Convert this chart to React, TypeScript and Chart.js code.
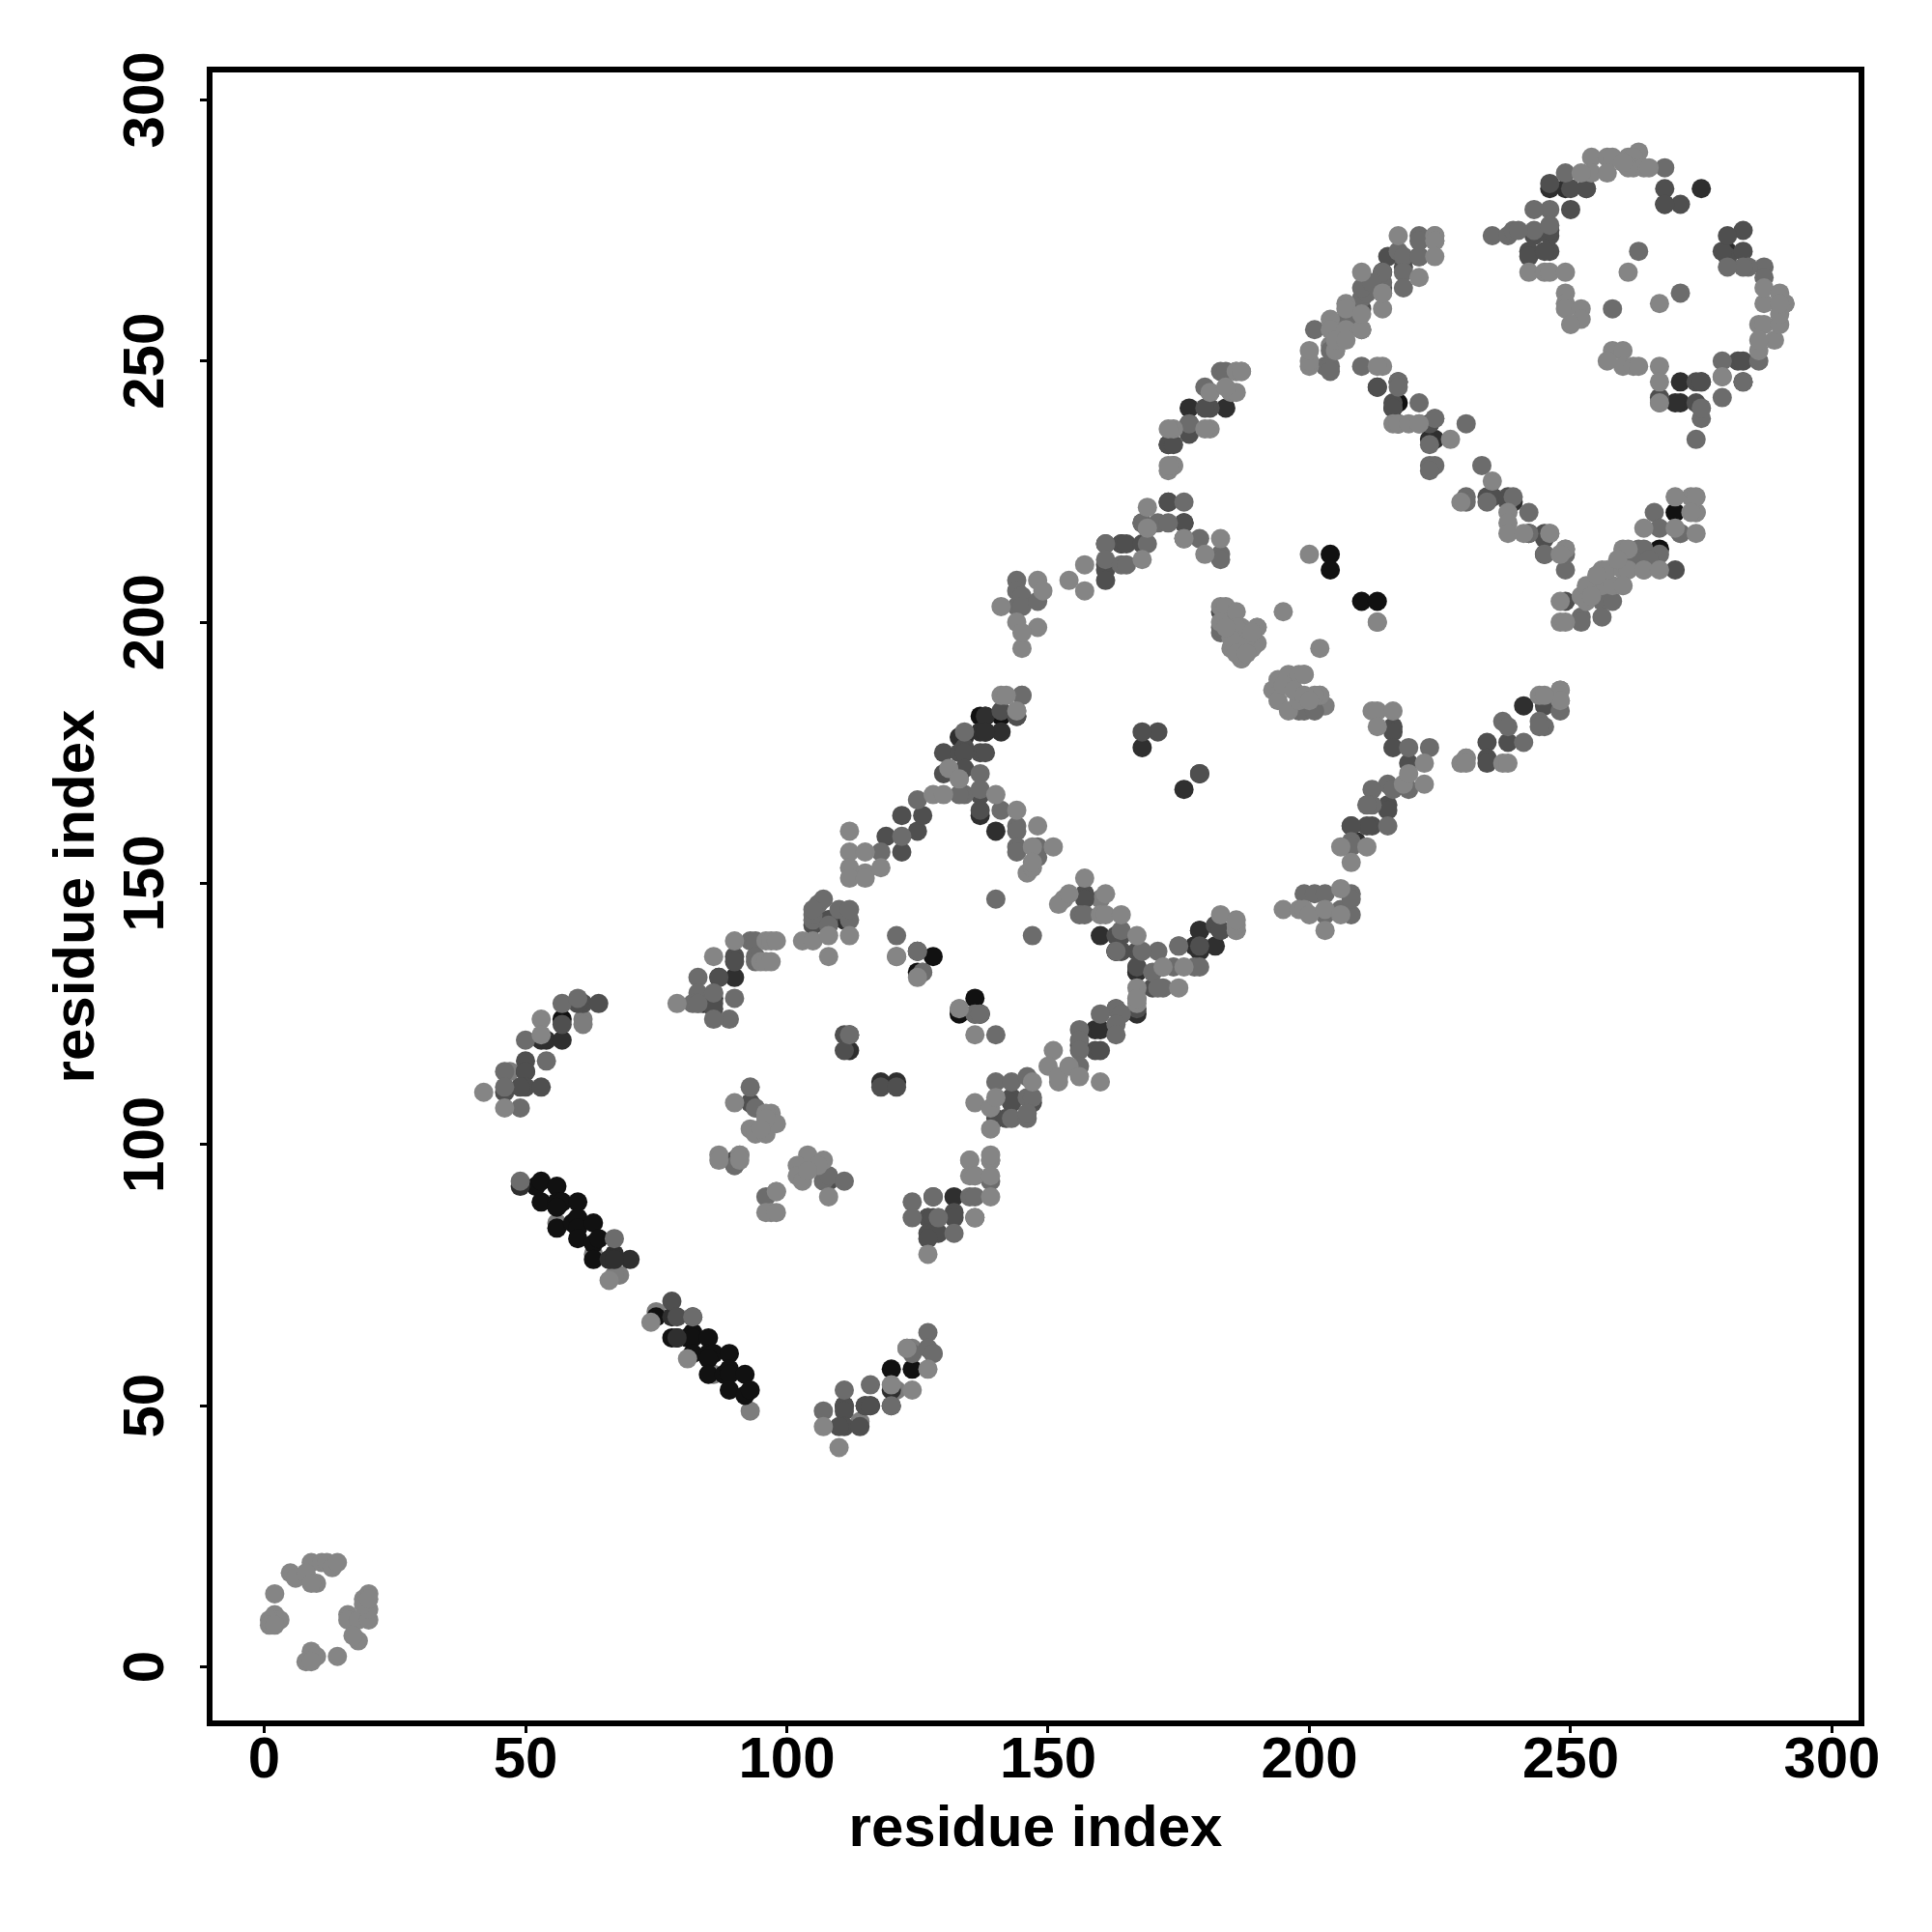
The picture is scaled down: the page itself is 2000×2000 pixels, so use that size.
import React, { useEffect, useRef } from "react";
import { Chart, registerables } from "chart.js";

Chart.register(...registerables);

const tickValues = [0, 50, 100, 150, 200, 250, 300];
const axisTitle = "residue index";

// Contact pairs [residue, residue], listed by shade in drawing order.
const shadeLight = [
  [2,14],[2,10],[3,9],[1,9],[1,8],[2,8],[9,3],[8,1],[10,2],[9,1],[14,2],[5,18],[6,17],[9,20],[8,18],[10,16],[9,16],[11,20],[12,20],[13,19],[14,20],[16,10],[16,9],[18,9],[18,5],[17,6],[20,9],[20,14],[19,13],[20,11],[19,12],[20,13],
  [42,110],[46,107],[53,124],[53,121],[66,74],[74,66],[81,59],[107,46],[110,42],[120,54],[124,53],[127,57],[123,61],
  [79,127],[86,136],[90,139],[96,139],[97,139],[98,139],[95,135],[96,135],[97,135],[103,139],[105,139],[108,136],[108,140],[112,140],
  [121,136],[136,121],[125,132],[133,126],
  [90,108],[93,103],[94,102],[96,102],[97,106],[96,106],[98,104],[96,105],[95,103],[87,98],[87,97],[91,98],[91,97],[98,91],[97,87],[96,87],[98,87],[104,98],[102,96],[102,94],[103,93],[107,97],[106,96],[104,95],[108,90],
  [127,79],[136,86],[139,90],[139,97],[139,98],[135,97],[135,94],[136,94],[139,94],[136,108],[139,103],[139,107],[140,109],[147,112],
  [112,160],[112,156],[112,153],[115,152],[112,151],[118,153],[115,151],[115,156],[128,167],[130,167],[141,186],[142,186],[144,183],[131,172],[133,170],[140,167],[144,164],[148,161],[147,157],[151,157],[146,152],[147,153],[147,154],
  [157,151],[153,147],[152,146],[154,148],[161,148],[160,144],[161,144],[164,144],[167,140],[172,134],[176,134],[175,130],[167,130],[167,127],[167,128],[151,118],[150,115],[152,112],[152,113],[154,115],[156,113],[160,112],[183,144],[186,141],[186,142],[186,143],
  [183,203],[184,203],[186,202],[183,200],[186,196],[185,195],[187,193],[190,199],[190,196],[189,195],[188,197],[187,199],[186,199],[185,197],[189,198],[184,199],[186,194],[188,194],[193,187],[194,189],[196,190],[198,190],[199,190],[194,185],[196,183],[202,186],[201,186],[198,185],[195,188],[197,187],[199,186],[200,185],[195,202],[202,195],[200,213],[213,200],
  [195,145],[198,145],[199,145],[200,144],[203,145],[203,141],[206,149],[206,144],
  [212,183],[213,183],[213,180],[216,183],[222,169],[218,169],[219,171],[211,157],[206,157],[208,154],[222,173],[229,173],[230,174],[230,173],[237,173],[238,173],
  [248,187],[248,185],[244,186],[245,186],
  [154,208],[157,211],[157,206],[169,222],[173,229],[174,230],[173,230],[174,237],[173,237],[181,237],[180,237],[185,244],[186,244],[181,244],[186,248],[187,248],[184,245],[168,212],[169,218],[176,216],[180,213],[183,216],
  [141,203],[148,208],[149,206],[145,195],[148,199],[144,200],[145,198],
  [200,249],[200,250],[200,252],[204,258],[204,256],[207,256],[207,261],[207,260],[210,256],[214,260],[214,263],[210,259],[217,274],[224,274],[224,273],[224,270],[210,267],[221,266],[214,249],[205,252],[213,249],[227,235],[216,238],[217,238],[219,238],[221,238],[205,254],[207,254],
  [229,223],[235,227],[238,221],[238,219],[238,217],[241,217],[246,217],[249,214],[248,213],[248,204],[248,200],[249,200],[252,205],[253,204],[256,207],[258,207],[256,210],[257,210],[260,210],[261,210],[260,207],[260,214],[261,214],[264,210],[267,210],[270,218],[274,217],[274,221],[273,224],[274,224],[270,224],[264,218],[273,221],[253,207],[254,205],[255,209],[259,212],
  [242,267],[245,267],[246,267],[249,267],[249,263],[249,261],[249,260],[252,260],[252,258],[250,257],[261,267],[267,261],[258,252],[260,252],[257,250],[260,249],[262,249],[263,249],[267,249],[267,246],[267,242],[279,247],[286,252],[286,257],[287,257],[287,261],[287,264],[289,254],[290,257],[290,259],[291,261],[290,263],[290,261],[286,254],
  [254,289],[257,289],[258,289],[261,289],[263,290],[262,289],[262,287],[264,287],[261,287],[254,286],[257,286],[252,286],[260,288],[265,287]
];

const shadeMid = [
  [46,114],[46,111],[49,107],[50,120],[54,116],[57,127],[60,128],[49,93],[67,82],[82,67],
  [107,49],[111,53],[116,54],[120,50],[127,64],[127,61],[128,60],[123,61],[124,60],
  [83,132],[83,129],[82,127],[83,127],[86,129],[90,128],[89,124],[86,124],[93,139],[94,139],[94,136],[94,135],[112,143],[105,143],[108,142],[105,144],[106,146],[107,147],[110,145],[112,145],[105,145],
  [121,140],[125,137],[121,136],[126,133],[136,125],[137,125],[140,121],[147,140],[140,147],[93,111],[94,107],[90,96],[96,90],[107,93],[108,94],[111,93],[112,121],
  [124,89],[124,86],[128,90],[129,86],[132,83],[139,93],[135,90],[136,90],[140,112],[143,112],[146,113],[143,105],[146,105],[146,109],[147,109],[146,106],
  [118,156],[122,159],[125,166],[134,167],[133,167],[137,171],[137,168],[145,186],[134,179],[141,164],[144,161],[144,160],[144,157],[144,156],[148,157],[148,155],
  [156,144],[157,144],[156,122],[156,120],[156,118],[156,115],[164,141],[163,137],[171,137],[168,137],[170,133],[172,130],[171,130],[163,126],[160,125],[175,138],[174,134],[178,134],[179,134],[164,125],[163,123],[163,121],
  [183,198],[183,199],[184,201],[185,200],[199,148],[201,148],[203,148],[203,144],[208,144],[206,145],[208,148],[208,147],[199,183],[198,183],[201,183],
  [144,208],[144,206],[144,203],[145,205],[145,203],[148,204],
  [219,176],[223,176],[215,169],[216,168],[212,168],[219,168],[212,165],[211,165],[215,161],[208,158],[208,157],[241,177],[244,181],[245,180],[244,180],[248,183],[237,181],[238,180],
  [161,215],[168,219],[171,219],[173,219],[176,223],[161,212],[164,211],[165,211],[179,216],[183,213],[183,212],[169,215],[177,238],[180,245],[183,248],[184,248],
  [201,256],[210,262],[211,263],[214,265],[214,267],[217,271],[218,270],[218,267],[218,264],[221,270],[221,274],[221,273],[203,249],[204,249],[204,248],[204,252],[210,249],[217,246],[217,245],[221,242],[224,239],[223,234],[223,230],[224,230],[223,229],[230,238],[207,258],[210,264],[212,265],[208,259],
  [233,230],[230,224],[230,223],[234,223],[239,224],[242,221],[242,217],[245,213],[249,210],[256,205],[256,204],[258,204],[256,201],[252,201],[252,200],[263,214],[264,214],[267,213],[266,221],[267,218],[271,217],[249,213],[262,212],[265,212],
  [235,274],[238,274],[239,275],[243,275],[263,271],[271,263],[274,235],[275,239],[279,243],[279,250],[286,250],[287,268],[287,266],[284,268],[283,268],[280,268],[283,246],[275,241],[258,260],
  [249,286],[268,287],[246,279],[243,279],[246,276],[240,275]
];

const shadeDark = [
  [46,110],[50,116],[50,114],[50,111],[49,111],[53,111],[61,127],[60,127],[64,127],[57,123],[78,70],[79,67],[111,50],[111,49],[111,46],[110,46],[114,46],[115,50],[116,50],
  [87,132],[90,136],[90,135],[86,127],[86,126],[105,142],[106,143],[108,143],[118,111],[121,111],[125,137],[111,121],[111,118],[93,108],[90,97],[108,93],
  [127,86],[128,86],[132,87],[132,86],[127,83],[128,83],[129,83],[127,82],[136,86],[143,109],[143,108],[147,108],[140,105],[142,105],
  [119,159],[122,156],[122,163],[125,160],[126,163],[130,175],[130,171],[133,171],[133,175],[137,175],[137,167],[137,164],[134,176],[134,175],[134,172],[144,182],[138,175],[141,183],
  [157,148],[157,147],[164,140],[163,140],[167,137],[167,134],[159,118],[160,118],[156,119],[167,126],[164,137],[170,130],[179,138],[182,142],[183,141],
  [216,180],[216,179],[216,176],[219,173],[215,165],[215,164],[212,161],[211,161],[208,161],[234,177],[234,174],[234,173],[238,177],[245,184],[171,179],[179,171],[168,179],[183,202],
  [161,211],[161,210],[161,208],[164,215],[165,215],[168,215],[173,234],[174,234],[177,237],[177,236],[181,241],[180,241],[173,223],[176,219],
  [210,256],[218,268],[215,270],[213,245],[217,246],[216,242],[216,241],[223,238],[234,224],[238,224],[235,224],[238,223],[245,217],[245,216],[249,204],[270,210],[267,243],[214,264],[210,260],
  [243,274],[246,274],[246,275],[242,271],[242,270],[246,271],[245,271],[274,246],[275,246],[274,242],[282,250],[283,250],[280,270],[283,271],[279,271],[283,275],[280,274],
  [250,283],[253,283],[268,283],[271,280],[268,280],[250,279],[246,284]
];

const shadeDeep = [
  [50,114],[53,120],[54,120],[57,120],[49,92],[67,79],[66,78],[70,78],[67,78],[79,63],[78,67],[82,67],[111,50],[115,50],[116,50],[120,53],[120,50],
  [87,132],[90,132],[84,127],[86,128],[108,143],[111,143],[112,118],[112,121],[118,112],[121,112],[128,90],[132,90],[127,86],
  [137,125],[136,125],[143,108],[133,171],[133,178],[137,179],[134,178],[141,179],[138,182],[138,179],[137,163],[140,160],[144,182],
  [160,140],[164,137],[163,137],[167,134],[167,133],[178,138],[179,141],[182,138],[179,137],[159,122],[160,122],[163,126],[164,125],[167,125],[183,141],
  [176,168],[179,171],[168,176],[241,184],[208,161],[209,158],
  [173,234],[177,241],[184,241],[177,238],[164,215],[161,215],[176,219],[173,223],[176,216],[168,219],
  [213,245],[216,241],[217,238],[223,235],[223,238],[224,235],[239,223],[235,224],[245,213],[271,246],[271,242],[270,242],[275,246],[283,246],
  [246,283],[249,283],[253,283],[268,280],[275,283],[280,271],[280,270]
];

const shadeBlack = [
  [52,92],[53,93],[56,92],[53,89],[56,89],[57,89],[56,88],[60,89],[56,84],[59,85],[60,86],[60,84],[63,85],[60,82],[63,81],[64,82],[63,78],[57,124],
  [75,67],[78,63],[79,63],[81,63],[82,64],[82,63],[85,63],[82,60],[85,60],[86,60],[85,59],[89,60],[85,56],[88,56],[89,57],[89,56],[92,56],[89,53],[92,52],[93,53],[120,57],[124,57],
  [128,136],[125,133],[136,128],[133,125],[167,133],[137,182],[138,182],[138,179],[141,182],[179,138],[179,141],
  [204,213],[204,210],[210,204],[213,204],[217,242],[221,270],[214,267],[242,217],[267,214],[270,221],[137,167],[163,137]
];

const shadeTop = [
  [47,114],[61,124],[61,123],[56,85],[63,79],[68,75],[67,75],[75,68],[79,63],[86,56],[93,49],[121,53],[124,61],[114,47],[128,60],
  [83,127],[86,129],[137,125],[133,126],[125,137],[126,133],[93,108],[94,107],[91,98],[90,96],[108,94],[98,91],
  [135,97],[139,97],[136,94],[129,86],[133,170],[144,183],[145,186],[160,147],[167,128],[172,134],[175,138],[186,141],
  [203,184],[202,186],[199,190],[190,199],[187,193],[213,200],[230,174],[248,187],[248,185],
  [181,244],[185,244],[186,248],[187,248],[174,230],[169,218],
  [224,274],[224,273],[214,263],[217,246],[224,239],[221,238],[246,217],[249,214],[260,207],[264,210],[271,217],[274,221],[267,242],[279,247],[275,241],[291,261],[290,261],[204,253],[205,252]
];

const layers: [number[][], string][] = [
  [shadeLight, "#858585"],
  [shadeMid, "#6c6c6c"],
  [shadeDark, "#4f4f4f"],
  [shadeDeep, "#2f2f2f"],
  [shadeBlack, "#111111"],
  [shadeTop, "#7d7d7d"],
];

const framePlugin = {
  id: "frame",
  afterDatasetsDraw(chart: any) {
    const { ctx, chartArea: a } = chart;
    ctx.save();
    ctx.strokeStyle = "#000";
    ctx.lineWidth = 6;
    ctx.strokeRect(a.left, a.top, a.right - a.left, a.bottom - a.top);
    ctx.restore();
  },
};

export default function App() {
  const ref = useRef<HTMLCanvasElement>(null);
  useEffect(() => {
    const font = { family: '"Liberation Sans", Arial, sans-serif', weight: "bold", size: 60 };
    const setTicks = (s: any) => {
      s.ticks = tickValues.map((value) => ({ value }));
    };
    const chart = new Chart(ref.current!, {
      type: "scatter",
      data: {
        datasets: layers.map(([pts, color]) => ({
          data: pts.map(([x, y]) => ({ x, y })),
          backgroundColor: color,
          pointRadius: 10,
          pointBorderWidth: 0,
          clip: false,
        })),
      },
      plugins: [framePlugin],
      options: {
        animation: false,
        responsive: false,
        layout: { padding: { top: 72, right: 73, left: 0, bottom: 0 } },
        plugins: { legend: { display: false }, tooltip: { enabled: false } },
        scales: {
          x: {
            type: "linear",
            min: -10.45,
            max: 305.65,
            afterBuildTicks: setTicks,
            afterFit: (s: any) => {
              s.height = 216;
            },
            border: { display: false },
            grid: { drawOnChartArea: false, drawTicks: true, tickLength: 10, tickWidth: 3, color: "#000" },
            ticks: { color: "#000", font, padding: -7, autoSkip: false, maxRotation: 0, minRotation: 0 },
            title: { display: true, text: axisTitle, color: "#000", font, padding: { top: 0, bottom: 70 } },
          },
          y: {
            type: "linear",
            min: -10.8,
            max: 305.8,
            afterBuildTicks: setTicks,
            afterFit: (s: any) => {
              s.width = 217;
            },
            border: { display: false },
            grid: { drawOnChartArea: false, drawTicks: true, tickLength: 10, tickWidth: 3, color: "#000" },
            ticks: { color: "#000", font, padding: 4, autoSkip: false, minRotation: 90, maxRotation: 90, crossAlign: "center" },
            title: { display: true, text: axisTitle, color: "#000", font, padding: { top: 44, bottom: 0 } },
          },
        },
      },
    } as any);
    return () => chart.destroy();
  }, []);
  return (
    <div style={{ position: "absolute", left: 0, top: 0, width: 2000, height: 2000, background: "#fff" }}>
      <canvas ref={ref} width={2000} height={2000} style={{ display: "block" }} />
    </div>
  );
}
